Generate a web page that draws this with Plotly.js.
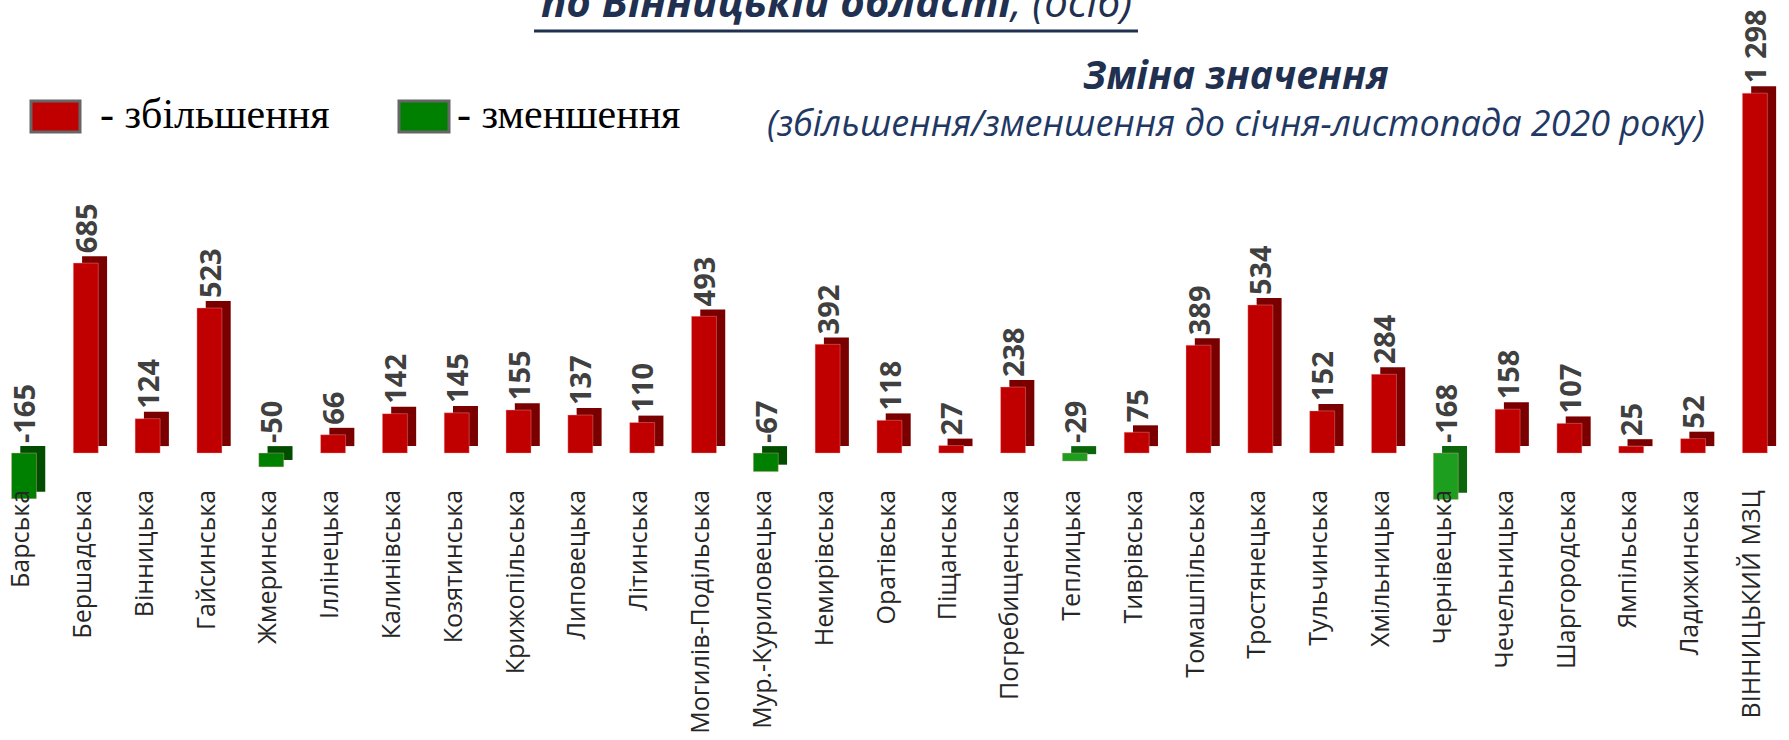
<!DOCTYPE html>
<html>
<head>
<meta charset="utf-8">
<script src="https://cdn.plot.ly/plotly-3.0.1.min.js"></script>
<style>
  html, body { margin: 0; padding: 0; background: #fff; }
  #chart { width: 1789px; height: 740px; }
</style>
</head>
<body>
<div id="chart"></div>
<script>
// Дані: зміна значення по громадах (осіб)
var categories = ['Барська', 'Бершадська', 'Вінницька', 'Гайсинська', 'Жмеринська', 'Іллінецька',
  'Калинівська', 'Козятинська', 'Крижопільська', 'Липовецька', 'Літинська', 'Могилів-Подільська',
  'Мур.-Куриловецька', 'Немирівська', 'Оратівська', 'Піщанська', 'Погребищенська', 'Теплицька',
  'Тиврівська', 'Томашпільська', 'Тростянецька', 'Тульчинська', 'Хмільницька', 'Чернівецька',
  'Чечельницька', 'Шаргородська', 'Ямпільська', 'Ладижинська', 'ВІННИЦЬКИЙ МЗЦ'];
var values = [-165, 685, 124, 523, -50, 66, 142, 145, 155, 137, 110, 493, -67, 392, 118, 27, 238, -29,
  75, 389, 534, 152, 284, -168, 158, 107, 25, 52, 1298];
var lightGreen = ['Теплицька', 'Чернівецька'];

var W = 1789, H = 740;
function px(x) { return x / W; }
function py(y) { return 1 - y / H; }

function fmt(v) {
  return String(v).replace(/\B(?=(\d{3})+(?!\d))/g, ' ');
}

var frontColors = values.map(function (v, i) {
  if (v >= 0) return '#C00000';
  return lightGreen.indexOf(categories[i]) >= 0 ? '#1E9E1E' : '#008000';
});
var sideColors = values.map(function (v, i) {
  if (v >= 0) return '#7A0000';
  return lightGreen.indexOf(categories[i]) >= 0 ? '#0B650B' : '#004D00';
});

// "3D" ефект: темна тінь трохи правіше та вище
var depthUnits = 25;
var data = [
  {
    type: 'bar', x: categories, y: values, base: depthUnits,
    width: 0.404, offset: -0.012,
    marker: { color: sideColors, line: { width: 0 } },
    hoverinfo: 'skip'
  },
  {
    type: 'bar', x: categories, y: values,
    width: 0.404, offset: -0.154,
    marker: { color: frontColors, line: { width: 0.6, color: 'rgba(255,170,170,0.6)' } },
    hoverinfo: 'x+y'
  },
  // невидимий ряд лише для підписів значень над нулем / над стовпцем
  {
    type: 'bar', x: categories,
    y: values.map(function (v) { return Math.max(v, 0) + depthUnits; }),
    width: 0.404, offset: -0.16,
    marker: { color: 'rgba(0,0,0,0)' },
    text: values.map(fmt), textposition: 'outside', textangle: -90,
    constraintext: 'none', cliponaxis: false,
    textfont: { family: 'Open Sans, sans-serif', size: 29, color: '#404040', weight: 'bold' },
    hoverinfo: 'skip'
  }
];

var annotations = [
  {
    xref: 'paper', yref: 'paper', x: px(836), y: py(31), xanchor: 'center', yanchor: 'bottom',
    showarrow: false,
    text: '<b><i>по Вінницькій області</i></b><i>, (осіб)</i>',
    font: { family: 'Liberation Sans Narrow, Open Sans, sans-serif', size: 42, color: '#1F3050' }
  },
  {
    xref: 'paper', yref: 'paper', x: px(1236), y: py(74), xanchor: 'center', yanchor: 'middle',
    showarrow: false,
    text: '<b><i>Зміна значення</i></b>',
    font: { family: 'Liberation Sans Narrow, Open Sans, sans-serif', size: 39, color: '#1F3050' }
  },
  {
    xref: 'paper', yref: 'paper', x: px(1236), y: py(123), xanchor: 'center', yanchor: 'middle',
    showarrow: false,
    text: '<i>(збільшення/зменшення до січня-листопада 2020 року)</i>',
    font: { family: 'Open Sans, sans-serif', size: 36, color: '#1F3864' }
  },
  {
    xref: 'paper', yref: 'paper', x: px(98), y: py(114), xanchor: 'left', yanchor: 'middle',
    showarrow: false, text: '- збільшення',
    font: { family: 'Liberation Serif, serif', size: 42, color: '#000' }
  },
  {
    xref: 'paper', yref: 'paper', x: px(455), y: py(114), xanchor: 'left', yanchor: 'middle',
    showarrow: false, text: '- зменшення',
    font: { family: 'Liberation Serif, serif', size: 42, color: '#000' }
  }
];

var shapes = [
  { type: 'line', xref: 'paper', yref: 'paper', x0: px(534), x1: px(1138), y0: py(31), y1: py(31),
    line: { color: '#1F3050', width: 3 } },
  { type: 'rect', xref: 'paper', yref: 'paper', x0: px(31), x1: px(80), y0: py(101), y1: py(132),
    fillcolor: '#C00000', line: { color: '#666666', width: 3 } },
  { type: 'rect', xref: 'paper', yref: 'paper', x0: px(399), x1: px(449), y0: py(101), y1: py(132),
    fillcolor: '#008000', line: { color: '#666666', width: 3 } }
];

var layout = {
  width: W, height: H,
  margin: { l: 0, r: 0, t: 0, b: 0 },
  paper_bgcolor: '#ffffff',
  plot_bgcolor: '#ffffff',
  barmode: 'overlay',
  showlegend: false,
  xaxis: {
    type: 'category',
    range: [-0.34, 28.6],
    anchor: 'free', position: 0.346,
    showgrid: false, zeroline: false, showline: false, ticks: '',
    tickangle: -90,
    tickfont: { family: 'Open Sans, sans-serif', size: 25, color: '#262626' },
    automargin: false
  },
  yaxis: {
    range: [-1035, 1634],
    showgrid: false, zeroline: false, showline: false, showticklabels: false, ticks: ''
  },
  annotations: annotations,
  shapes: shapes
};

Plotly.newPlot('chart', data, layout, { displayModeBar: false, staticPlot: true });
</script>
</body>
</html>
